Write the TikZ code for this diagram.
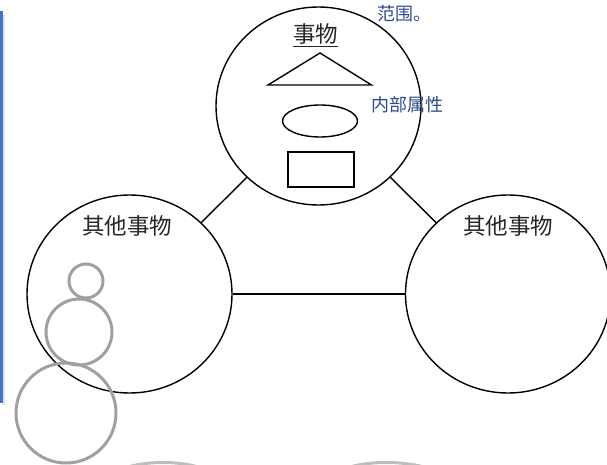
\documentclass[tikz,border=0pt]{standalone}
\usepackage{fontspec}
\newfontfamily\cjk{Noto Sans CJK SC}
\usetikzlibrary{shapes.geometric}
\definecolor{barblue}{RGB}{68,114,196}
\definecolor{ringgray}{RGB}{160,160,160}
\definecolor{noteblue}{RGB}{45,75,140}
\tikzset{thing/.style={ellipse, draw, line width=1.4pt,
  minimum width=205pt, minimum height=198pt, inner sep=0pt}}
\tikzset{ring/.style={draw=ringgray, line width=3pt}}
\tikzset{thinglabel/.style={font=\cjk\fontsize{22.5}{26}\selectfont, text=black!85, inner sep=0pt}}
\tikzset{note/.style={font=\cjk\fontsize{18}{21}\selectfont, text=noteblue, inner sep=0pt}}

\begin{document}
\begin{tikzpicture}[x=1pt,y=-1pt]
  \useasboundingbox (0,0) rectangle (607,465);

  \fill [black!12] (3,15) rectangle (5,405);
  \fill [barblue] (0,11) rectangle (3,403);

  \node [thing] (thing) at (318.5,106) {};
  \node [thing] (otherL) at (129.5,294) {};
  \node [thing] (otherR) at (508,294) {};

  \draw [line width=1.4pt] (thing) -- (otherL);
  \draw [line width=1.4pt] (thing) -- (otherR);
  \draw [line width=1.4pt] (otherL) -- (otherR);

  \node [thinglabel] (thingname) at (315.5,35) {\underline{事物}};
  \node [thinglabel] (otherLname) at (127,226) {其他事物};
  \node [thinglabel] (otherRname) at (508,226) {其他事物};

  \draw [line width=1.4pt, line join=miter] (320,53) -- (371.5,85) -- (268,85) -- cycle;
  \draw [line width=1.4pt] (320,121) ellipse [x radius=37.5, y radius=16];
  \draw [line width=1.4pt] (288,152) rectangle (354,187);

  \node [note, anchor=west] (scope) at (377,14) {范围。};
  \node [note, anchor=west] (attr) at (371,105) {内部属性};

  \draw [ring] (86,281) circle (17);
  \draw [ring] (79,332) circle (33);
  \draw [ring] (66,413) circle (50);

  \draw [ring, draw=ringgray!70] (128,467) .. controls (148,461) and (178,461) .. (198,467);
  \draw [ring, draw=ringgray!70] (350,467) .. controls (370,461) and (402,461) .. (424,467);
\end{tikzpicture}
\end{document}
